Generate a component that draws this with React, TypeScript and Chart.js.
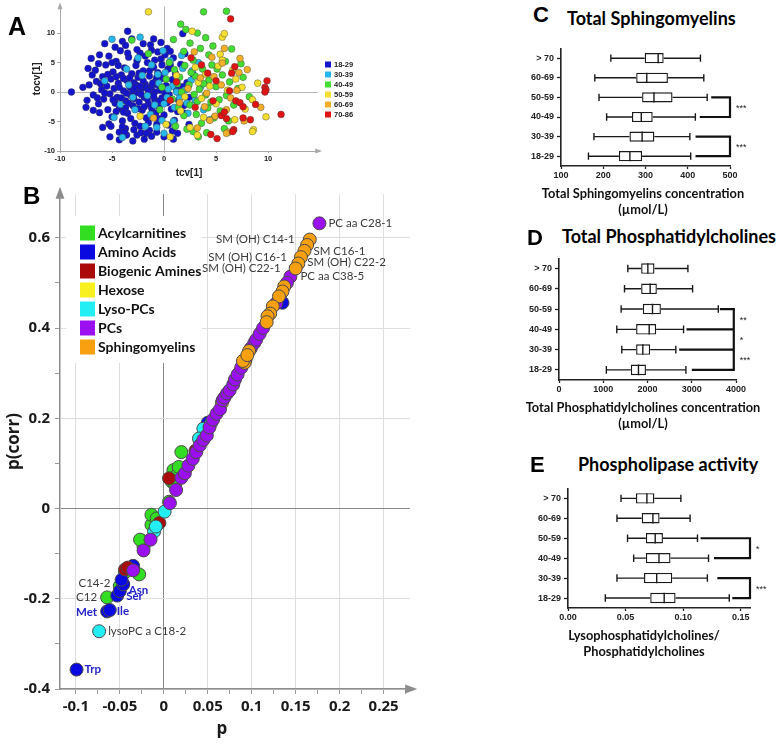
import React, { useEffect, useRef } from 'react';
import { Chart, registerables } from 'chart.js';
Chart.register(...registerables);

// ---------------- Panel A : OPLS score plot ----------------
const A_GROUPS = ['18-29', '30-39', '40-49', '50-59', '60-69', '70-86'];
const A_COLORS = ['#1414cc', '#26b8ec', '#44dd33', '#f4de2e', '#f2b02a', '#e01414'];
const A_X_TICKS = [-10, -5, 0, 5, 10];
const A_Y_TICKS = [-10, -5, 0, 5, 10];

const A_18_29 = [
  [-8.9, 0], [-7.4, -1.4], [-7.0, 5.7], [-6.6, 3.7], [-5.7, 8.2], [-3.5, 10.3], [-4.0, 8.6], [-3.7, 7.9], [-1.3, 8.0], [-0.6, 6.8],
  [0.1, 6.3], [-6.2, -3.5], [-5.9, -6.0], [-5.3, -5.4], [-4.3, -6.8], [-3.7, -6.2], [-1.4, -6.5], [-5.2, -7.6], [-3.6, -7.3], [-2.6, -7.3],
  [-2.2, -6.9], [-1.7, -7.0], [-1.2, -7.5], [-0.7, -6.8], [0.9, -8.0], [0.0, -7.6], [-7.2, 1.2], [-6.8, -0.5], [-6.5, 1.8], [-6.3, -2.0],
  [-6.0, 0.4], [-5.9, 2.6], [-5.8, -1.2], [-5.6, 4.6], [-5.5, 1.0], [-5.4, -3.0], [-5.3, 6.1], [-5.2, -0.3], [-5.1, 2.2], [-5.0, -4.2],
  [-4.9, 3.4], [-4.8, 0.6], [-4.7, -1.9], [-4.6, 5.2], [-4.5, -0.9], [-4.4, 1.5], [-4.3, -2.8], [-4.2, 7.0], [-4.1, 2.9], [-4.0, -4.9],
  [-3.9, 0.2], [-3.8, 4.1], [-3.7, -1.5], [-3.6, 2.0], [-3.5, -3.6], [-3.4, 5.9], [-3.3, 0.9], [-3.2, -0.6], [-3.1, 3.1], [-3.0, -2.3],
  [-2.9, 1.6], [-2.8, -5.3], [-2.7, 4.5], [-2.6, -0.1], [-2.5, 2.5], [-2.4, -1.7], [-2.3, 6.6], [-2.2, 0.5], [-2.1, -3.1], [-2.0, 3.6],
  [-1.9, -0.9], [-1.8, 1.3], [-1.7, -4.4], [-1.6, 5.0], [-1.5, -2.0], [-1.4, 2.7], [-1.3, -0.4], [-1.2, 0.9], [-1.1, -3.4], [-1.0, 4.2],
  [-0.9, -1.3], [-0.8, 1.9], [-0.7, -5.5], [-0.6, 3.3], [-0.5, -2.6], [-0.4, 0.3], [-0.3, 5.6], [-0.2, -1.0], [-0.1, 2.3], [0.0, -3.9],
  [0.2, 1.1], [0.3, -1.8], [0.4, 3.9], [0.5, -0.5], [0.7, -2.9], [0.8, 2.1], [1.0, -4.8], [1.2, 0.4], [1.4, -1.4], [1.6, 4.7],
  [1.9, -2.3], [2.2, 1.6], [-3.6, -0.2], [-3.3, 2.4], [-3.0, 0.3], [-2.9, -1.1], [-2.7, 1.2], [-2.5, -2.8], [-2.4, 3.2], [-2.2, -0.4],
  [-2.0, 1.9], [-1.9, -2.5], [-1.7, 0.7], [-1.6, -1.2], [-1.4, 3.6], [-1.2, -2.7], [-1.1, 1.5], [-0.9, 0.0], [-0.8, -3.6], [-0.6, 1.2],
  [-0.4, -1.5], [-0.3, 2.8], [-4.3, 0.8], [-4.1, -1.0], [-3.9, 2.3], [-3.7, -2.7], [-4.6, -3.3], [-4.9, -1.3], [-5.4, 3.0], [-5.7, -0.2],
  [-6.1, 1.4], [-6.4, -1.0], [-4.4, 4.5], [-3.5, 6.6], [-2.6, 7.2], [-1.8, 6.1], [-0.9, 5.4], [-1.2, 7.1], [-2.0, 8.2], [-3.1, 9.0],
  [-4.7, 7.6], [-6.2, 6.3], [-5.1, -5.8], [-4.0, -5.9], [-3.2, -4.5], [-2.3, -5.8], [-1.5, -5.2], [-0.5, -4.5], [0.4, -5.6], [0.8, -6.6],
  [-3.8, -6.8], [-2.9, -6.4], [-6.8, -3.1], [-7.5, -2.6], [-7.8, 0.8], [-6.9, 2.9], [-6.3, 4.8], [-7.3, 4.0], [0.6, 4.6], [1.1, 3.1],
  [1.5, -0.2], [1.8, 0.9], [2.4, -0.9], [2.0, -3.6], [1.3, -3.3], [0.9, 5.8], [0.3, 7.4], [-0.2, 4.6], [-5.0, 5.0], [-3.0, -8.3],
  [-1.9, -8.0], [-4.3, -8.1], [1.8, 9.9], [-1.0, 9.0], [-0.3, 8.4], [0.6, 6.9], [1.3, -7.0], [2.4, -5.5], [2.8, 3.0], [2.0, 6.5],
  [-3.4, -1.9], [-2.8, 0.7], [-1.5, 0.2], [-1.0, -0.7], [-2.3, 1.0], [-3.9, -3.4], [-4.6, 2.6], [-2.6, 5.3], [-0.7, 2.5], [0.1, -0.2],
];
const A_30_39 = [
  [-5.0, 8.95], [-2.3, 9.3], [-4.0, -7.7], [0.0, -7.0], [-4.2, -2.1], [-3.4, 1.2], [-2.8, -3.0], [-2.1, 2.8], [-1.6, -0.6], [-1.2, 4.6],
  [-0.9, -2.2], [-0.5, 1.5], [-0.2, -4.8], [0.1, 3.3], [0.3, -0.9], [0.6, 5.3], [0.8, 1.0], [1.0, -2.6], [1.3, 2.4], [1.5, -1.0],
  [1.8, 4.0], [2.0, 0.3], [2.3, -3.6], [2.6, 2.0], [3.0, -1.4], [3.3, 5.0], [3.8, -3.0], [4.4, -4.7], [-1.8, -5.8], [-0.7, -6.0],
  [0.9, -5.0], [1.7, 6.2], [-0.1, 7.0], [-3.6, 3.9], [-4.8, -4.3], [-5.7, 1.9], [0.4, 0.5], [-0.6, 3.0], [1.2, 0.0], [2.2, -1.9],
  [0.0, -2.0], [-1.3, -3.8], [2.7, 3.6], [3.5, 0.8], [-2.5, 5.8], [-3.0, -0.9],
];
const A_40_49 = [
  [3.8, 13.6], [6.0, 13.7], [1.6, 11.5], [2.1, 10.6], [3.2, 10.0], [3.5, 7.4], [4.7, 7.8], [6.5, 7.3], [1.9, 6.9], [4.3, 6.3],
  [-3.1, 8.8], [-1.5, 6.5], [3.3, -7.6], [2.8, -6.7], [0.5, 5.0], [1.0, 3.8], [1.5, 2.5], [2.0, 4.5], [2.4, 1.2], [2.8, 5.4],
  [3.0, 2.7], [3.4, 0.5], [3.7, 3.9], [4.0, -0.5], [4.3, 2.0], [4.6, 4.6], [5.0, 0.9], [5.3, -1.3], [5.6, 2.9], [6.0, -0.6],
  [6.3, 1.7], [6.7, -2.2], [7.1, 0.6], [7.6, 2.5], [8.2, -0.8], [0.8, -1.2], [1.4, -2.6], [1.9, -4.0], [2.5, -2.2], [3.1, -3.8],
  [3.6, -5.3], [4.2, -2.7], [4.8, -4.4], [5.4, -3.2], [6.2, -4.9], [0.2, 2.2], [-0.4, -3.0], [1.1, -5.8], [2.2, -6.3], [1.7, 0.0],
  [2.9, -0.4], [3.8, 1.4], [4.5, -1.7], [5.1, 3.9], [5.9, 5.2], [2.5, 8.3], [4.0, 9.2], [0.9, 8.9], [7.4, 4.8], [5.8, -6.2],
  [4.1, -6.9], [-0.2, 0.8], [1.3, 1.4], [3.2, -1.6], [2.6, 3.3],
];
const A_50_59 = [
  [-1.5, 13.6], [2.7, 10.3], [5.6, 9.3], [5.8, 9.9], [5.4, 6.4], [5.6, 5.4], [6.6, 3.7], [7.5, 0.8], [8.5, -1.3], [9.8, -4.2],
  [8.6, -6.4], [6.8, -4.7], [3.8, -4.3], [2.5, -6.0], [-2.3, -4.1], [0.6, -7.6], [3.2, -7.3], [8.5, -6.7], [1.2, 2.8], [2.0, -0.8],
  [3.0, 4.2], [3.6, -1.1], [4.4, 1.0], [5.0, -2.0], [5.2, 4.4], [6.1, 0.3], [6.9, 2.2], [4.0, 3.0], [1.6, -3.2], [3.3, 1.6],
  [7.8, -2.9], [9.0, 1.5], [0.2, -5.5],
];
const A_60_69 = [
  [5.6, 4.9], [7.2, 3.3], [7.0, 0.3], [4.9, -4.1], [4.4, -4.8], [3.2, -6.1], [6.2, -6.8], [6.0, -7.0], [-1.0, -4.4], [2.3, 0.6],
  [3.5, 2.4], [4.1, -0.2], [4.8, 2.6], [5.5, 1.2], [6.4, -1.0], [7.3, 5.7], [2.9, 6.8], [6.0, -3.0], [8.0, 3.8], [3.9, -2.5],
  [5.8, 7.4], [1.5, -1.8], [7.7, -4.9], [9.3, -2.6], [4.6, 5.9],
];
const A_70_86 = [
  [6.4, 12.4], [2.6, 5.8], [6.8, 4.3], [6.5, 3.2], [9.9, 1.9], [9.7, 0.8], [9.8, 0.4], [9.7, 0.0], [6.3, 0.2], [6.9, -1.5],
  [7.3, -1.8], [7.6, -2.5], [11.25, -3.8], [7.6, -4.4], [6.7, -6.4], [6.0, -4.5], [5.5, -4.0], [5.8, -3.4], [3.0, -2.6], [4.7, -1.5],
  [4.2, 3.2], [1.2, 1.7], [0.6, -1.4], [4.5, -7.2], [5.1, -7.9], [6.6, -6.7], [8.3, -4.7], [3.6, 4.6], [5.0, 1.9], [8.8, -2.1],
];

// ---------------- Panel B : S-plot ----------------
const B_CATEGORIES = ['Acylcarnitines', 'Amino Acids', 'Biogenic Amines', 'Hexose', 'Lyso-PCs', 'PCs', 'Sphingomyelins'];
const B_COLORS = ['#33dd22', '#0a0ae0', '#aa0a0a', '#f8f020', '#22eef4', '#9a10f0', '#f8a010'];
const B_X_TICKS = [-0.1, -0.075, -0.05, -0.025, 0, 0.025, 0.05, 0.075, 0.1, 0.125, 0.15, 0.175, 0.2, 0.225, 0.25, 0.275];
const B_Y_TICKS = [-0.4, -0.3, -0.2, -0.1, 0, 0.1, 0.2, 0.3, 0.4, 0.5, 0.6];

const B_ACYL = [
  [-0.0644, -0.197], [-0.047, -0.166], [-0.044, -0.141], [-0.028, -0.146], [-0.025, -0.071], [-0.023, -0.084], [-0.027, -0.069],
  [-0.014, -0.036], [-0.014, -0.014], [-0.008, -0.022], [0.006, 0.015], [0.011, 0.085], [0.015, 0.074], [0.009, 0.060],
  [0.020, 0.125], [-0.050, -0.172], [0.013, 0.052], [0.017, 0.092],
];
const B_AMINO = [
  [-0.0992, -0.357], [-0.0644, -0.228], [-0.0614, -0.225], [-0.053, -0.193], [-0.050, -0.183], [-0.046, -0.168], [-0.048, -0.158],
  [-0.0348, -0.127], [0.050, 0.190], [0.135, 0.456],
];
const B_BIOGENIC = [[-0.044, -0.135], [-0.041, -0.131], [-0.005, -0.032], [0.006, 0.067], [0.036, 0.128]];
const B_HEXOSE = [[0.066, 0.234]];
const B_LYSO = [[-0.0735, -0.272], [-0.011, -0.051], [0.001, -0.007], [0.045, 0.177], [0.054, 0.190], [-0.009, -0.040], [0.040, 0.155]];
const B_PC = [
  [0.177, 0.632], [0.144, 0.514], [-0.0348, -0.137], [-0.023, -0.093], [-0.015, -0.069], [0.007, 0.012], [0.014, 0.041],
  [0.020, 0.068], [0.024, 0.078], [0.028, 0.095], [0.033, 0.110], [0.037, 0.125], [0.041, 0.140], [0.045, 0.152], [0.049, 0.162],
  [0.052, 0.180], [0.056, 0.197], [0.060, 0.210], [0.064, 0.220], [0.067, 0.240], [0.069, 0.246], [0.072, 0.255], [0.075, 0.262],
  [0.079, 0.275], [0.081, 0.286], [0.084, 0.297], [0.088, 0.312], [0.093, 0.330], [0.099, 0.355], [0.103, 0.367], [0.105, 0.374],
  [0.109, 0.387], [0.113, 0.400], [0.128, 0.455], [0.140, 0.500],
];
const B_SM = [
  [0.166, 0.596], [0.163, 0.584], [0.160, 0.571], [0.156, 0.557], [0.153, 0.543], [0.150, 0.532], [0.137, 0.492], [0.135, 0.481],
  [0.131, 0.470], [0.124, 0.448], [0.121, 0.432], [0.118, 0.426], [0.117, 0.413], [0.097, 0.349], [0.092, 0.323], [0.090, 0.327],
  [0.095, 0.340],
];
const B_SERIES = [B_ACYL, B_AMINO, B_BIOGENIC, B_HEXOSE, B_LYSO, B_PC, B_SM];

const B_LABEL_TEXT = ['PC aa C28-1', 'SM (OH) C14-1', 'SM C16-1', 'SM (OH) C16-1', 'SM (OH) C22-2', 'SM (OH) C22-1', 'PC aa C38-5',
  'C14-2', 'C12', 'Asn', 'Ser', 'Met', 'Ile', 'lysoPC a C18-2', 'Trp'];
const B_LABEL_AT = [[0.177, 0.632], [0.166, 0.596], [0.160, 0.571], [0.156, 0.557], [0.153, 0.543], [0.150, 0.532], [0.144, 0.514],
  [-0.047, -0.166], [-0.0644, -0.197], [-0.050, -0.183], [-0.053, -0.193], [-0.0644, -0.228], [-0.0614, -0.225], [-0.0735, -0.272], [-0.0992, -0.357]];
const B_LABEL_AMINO = [false, false, false, false, false, false, false, false, false, true, true, true, true, false, true];
// label placement (pixel offsets from the anchor point)
const B_LABEL_DX = [9, -15, 9, -14, 9, -15, 10, -12, -10, 9, 9, -10, 7, 9, 8];
const B_LABEL_DY = [0, 0, 0, 0, -1, 0, 0, 0, 0, -1, 1, 1, 1.5, 0, 0];

// ---------------- Panels C, D, E : box plots ----------------
const AGE_LABELS = ['> 70', '60-69', '50-59', '40-49', '30-39', '18-29'];

const C_LO = [218, 180, 190, 208, 178, 165];
const C_Q1 = [298, 278, 292, 268, 262, 237];
const C_MED = [330, 303, 320, 290, 292, 263];
const C_Q3 = [343, 353, 364, 317, 321, 292];
const C_HI = [430, 438, 446, 418, 405, 407];
const C_TICKS = [100, 200, 300, 400, 500];

const D_LO = [1555, 1480, 1404, 1306, 1419, 1070];
const D_Q1 = [1857, 1857, 1894, 1743, 1743, 1623];
const D_MED = [2008, 2060, 2113, 2038, 1894, 1796];
const D_Q3 = [2158, 2211, 2302, 2196, 2060, 1965];
const D_HI = [2913, 3019, 3600, 2815, 2640, 2868];
const D_TICKS = [0, 1000, 2000, 3000, 4000];

const E_LO = [0.046, 0.0425, 0.0517, 0.057, 0.0425, 0.0324];
const E_Q1 = [0.059, 0.064, 0.0676, 0.0676, 0.066, 0.0714];
const E_MED = [0.0685, 0.0737, 0.0757, 0.079, 0.077, 0.0835];
const E_Q3 = [0.075, 0.0795, 0.0824, 0.089, 0.0905, 0.0934];
const E_HI = [0.098, 0.106, 0.1124, 0.122, 0.121, 0.140];
const E_TICKS = [0, 0.05, 0.1, 0.15];

const C_BRACKETS = [
  { rows: ['50-59', '40-49'], starts: [458, 431], end: 500, labels: ['***'] },
  { rows: ['30-39', '18-29'], starts: [421, 421], end: 500, labels: ['***'] },
];
const D_BRACKETS = [
  { rows: ['50-59', '40-49', '30-39', '18-29'], starts: [3660, 2905, 2740, 3026], end: 3950, labels: ['**', '*', '***'] },
];
const E_BRACKETS = [
  { rows: ['50-59', '40-49'], starts: [0.116, 0.1277], end: 0.158, labels: ['*'] },
  { rows: ['30-39', '18-29'], starts: [0.1306, 0.1436], end: 0.158, labels: ['***'] },
];

// ---------------- helpers ----------------
const ARIAL = "'Liberation Sans', Arial, sans-serif";
const NARROW = "'Liberation Sans Narrow', 'Liberation Sans', Arial, sans-serif";

function arrowPlugin(color: string, len: number, half: number) {
  return {
    id: 'axisArrows',
    afterDraw(chart: any) {
      const { ctx, chartArea: a } = chart;
      ctx.save();
      ctx.fillStyle = color;
      ctx.beginPath();
      ctx.moveTo(a.left, a.top - len * 0.6);
      ctx.lineTo(a.left - half, a.top + len * 0.4);
      ctx.lineTo(a.left + half, a.top + len * 0.4);
      ctx.closePath();
      ctx.fill();
      ctx.beginPath();
      ctx.moveTo(a.right + len * 0.6, a.bottom);
      ctx.lineTo(a.right - len * 0.4, a.bottom - half);
      ctx.lineTo(a.right - len * 0.4, a.bottom + half);
      ctx.closePath();
      ctx.fill();
      ctx.restore();
    },
  };
}

function pts(arr: number[][]) {
  return arr.map(([x, y]) => ({ x, y }));
}

function makeA(canvas: HTMLCanvasElement) {
  const series = [A_70_86, A_60_69, A_50_59, A_40_49, A_30_39, A_18_29];
  const cols = [A_COLORS[5], A_COLORS[4], A_COLORS[3], A_COLORS[2], A_COLORS[1], A_COLORS[0]];
  const legendPlugin = {
    id: 'aLegend',
    afterDraw(chart: any) {
      const { ctx, chartArea: a } = chart;
      ctx.save();
      ctx.font = `bold 7.5px ${ARIAL}`;
      ctx.textBaseline = 'middle';
      A_GROUPS.forEach((g, i) => {
        const y = a.top + 58 + i * 10;
        ctx.fillStyle = A_COLORS[i];
        ctx.fillRect(a.right + 7, y - 3, 6, 6);
        ctx.fillStyle = '#222';
        ctx.fillText(g, a.right + 16, y);
      });
      ctx.restore();
    },
  };
  return new Chart(canvas, {
    type: 'scatter',
    data: {
      datasets: series.map((s, i) => ({
        data: pts(s),
        backgroundColor: cols[i],
        borderColor: 'rgba(60,60,60,0.65)',
        borderWidth: 0.6,
        pointRadius: 3.4,
      })),
    },
    options: {
      animation: false,
      responsive: false,
      events: [],
      layout: { padding: { left: 27, top: 4, right: 42, bottom: 0 } },
      plugins: { legend: { display: false }, tooltip: { enabled: false } },
      scales: {
        x: {
          type: 'linear', min: -10, max: 14.8,
          afterBuildTicks: (s: any) => { s.ticks = A_X_TICKS.map((v) => ({ value: v })); },
          afterFit: (s: any) => { s.height = 34; },
          ticks: { font: { family: ARIAL, size: 7.5, weight: 'bold' }, color: '#222', padding: 1, maxRotation: 0 },
          grid: { color: (c: any) => (c.tick && c.tick.value === 0 ? '#b8b8b8' : 'rgba(0,0,0,0)'), tickColor: '#aaa', tickLength: 2 },
          border: { color: '#a8a8a8', width: 1 },
          title: { display: true, text: 'tcv[1]', font: { family: ARIAL, size: 10, weight: 'bold' }, color: '#222', padding: { top: 0, bottom: 6 } },
        },
        y: {
          type: 'linear', min: -10, max: 14.5,
          afterBuildTicks: (s: any) => { s.ticks = A_Y_TICKS.map((v) => ({ value: v })); },
          afterFit: (s: any) => { s.width = 33; },
          ticks: { font: { family: ARIAL, size: 7.5, weight: 'bold' }, color: '#222', padding: 2 },
          grid: { color: (c: any) => (c.tick && c.tick.value === 0 ? '#b8b8b8' : 'rgba(0,0,0,0)'), tickColor: '#aaa', tickLength: 3 },
          border: { color: '#a8a8a8', width: 1 },
          title: { display: true, text: 'tocv[1]', font: { family: ARIAL, size: 10, weight: 'bold' }, color: '#222', padding: { top: 4, bottom: 0 } },
        },
      },
    } as any,
    plugins: [arrowPlugin('#a8a8a8', 7, 2.5), legendPlugin],
  });
}

function isMult(v: number, step: number) {
  const r = v / step;
  return Math.abs(r - Math.round(r)) < 1e-6;
}

function makeB(canvas: HTMLCanvasElement) {
  const drawOrder = [6, 5, 3, 4, 2, 1, 0];
  const legendPlugin = {
    id: 'bLegend',
    afterDraw(chart: any) {
      const { ctx, chartArea: a } = chart;
      ctx.save();
      ctx.fillStyle = '#fff';
      ctx.fillRect(a.left + 6, a.top + 22, 136, 147);
      ctx.font = `bold 14px Lato, ${ARIAL}`;
      ctx.textBaseline = 'middle';
      B_CATEGORIES.forEach((c, i) => {
        const y = a.top + 39 + i * 19;
        ctx.fillStyle = B_COLORS[i];
        ctx.fillRect(a.left + 20, y - 7.5, 15, 15);
        ctx.fillStyle = '#111';
        ctx.fillText(c, a.left + 38, y + 0.5);
      });
      // x-axis title
      ctx.font = "bold 17px 'Open Sans', sans-serif";
      ctx.fillStyle = '#1a1a1a';
      ctx.textAlign = 'center';
      ctx.fillText('p', (a.left + a.right) / 2 - 13, a.bottom + 40);
      ctx.restore();
    },
  };
  const labelPlugin = {
    id: 'bLabels',
    afterDatasetsDraw(chart: any) {
      const { ctx, scales } = chart;
      ctx.save();
      ctx.textBaseline = 'middle';
      B_LABEL_TEXT.forEach((t, i) => {
        const x = scales.x.getPixelForValue(B_LABEL_AT[i][0]) + B_LABEL_DX[i];
        const y = scales.y.getPixelForValue(B_LABEL_AT[i][1]) + B_LABEL_DY[i];
        ctx.textAlign = B_LABEL_DX[i] < 0 ? 'right' : 'left';
        ctx.font = B_LABEL_AMINO[i] ? `bold 11.5px Lato, ${ARIAL}` : `11.5px Lato, ${ARIAL}`;
        ctx.fillStyle = B_LABEL_AMINO[i] ? '#2424c8' : '#3a3a3a';
        ctx.fillText(t, x, y);
      });
      ctx.restore();
    },
  };
  return new Chart(canvas, {
    type: 'scatter',
    data: {
      datasets: drawOrder.map((k) => ({
        data: pts(B_SERIES[k]),
        backgroundColor: B_COLORS[k],
        borderColor: '#4a4a4a',
        borderWidth: 1,
        pointRadius: 6.5,
      })),
    },
    options: {
      animation: false,
      responsive: false,
      events: [],
      layout: { padding: { left: 0, top: 10, right: 60, bottom: 0 } },
      plugins: { legend: { display: false }, tooltip: { enabled: false } },
      scales: {
        x: {
          type: 'linear', min: -0.118, max: 0.28,
          afterBuildTicks: (s: any) => { s.ticks = B_X_TICKS.map((v) => ({ value: v })); },
          afterFit: (s: any) => { s.height = 55; },
          ticks: {
            font: { family: "'Open Sans', sans-serif", size: 15, weight: 'bold' }, color: '#1a1a1a', padding: 4, maxRotation: 0, autoSkip: false,
            callback: (v: any) => (isMult(v, 0.05) ? String(v) : ''),
          },
          grid: {
            color: (c: any) => (!c.tick ? 'rgba(0,0,0,0)' : c.tick.value === 0 ? '#8a8a8a' : isMult(c.tick.value, 0.05) ? '#dedede' : 'rgba(0,0,0,0)'),
            tickColor: '#9a9a9a', tickLength: 5,
          },
          border: { color: '#8c8c8c', width: 1.5 },
        },
        y: {
          type: 'linear', min: -0.4, max: 0.697,
          afterBuildTicks: (s: any) => { s.ticks = B_Y_TICKS.map((v) => ({ value: v })); },
          afterFit: (s: any) => { s.width = 60; },
          ticks: {
            font: { family: "'Open Sans', sans-serif", size: 15, weight: 'bold' }, color: '#1a1a1a', padding: 5, autoSkip: false,
            callback: (v: any) => (isMult(v, 0.2) ? String(v) : ''),
          },
          grid: {
            color: (c: any) => (!c.tick ? 'rgba(0,0,0,0)' : c.tick.value === 0 ? '#8a8a8a' : isMult(c.tick.value, 0.2) ? '#dedede' : 'rgba(0,0,0,0)'),
            tickColor: '#9a9a9a', tickLength: 5,
          },
          border: { color: '#8c8c8c', width: 1.5 },
          title: { display: true, text: 'p(corr)', font: { family: "'Open Sans', sans-serif", size: 17, weight: 'bold' }, color: '#1a1a1a', padding: { top: 4, bottom: 0 } },
        },
      },
    } as any,
    plugins: [arrowPlugin('#8c8c8c', 12, 4.5), labelPlugin, legendPlugin],
  });
}

type BoxOpts = {
  lo: number[]; q1: number[]; med: number[]; q3: number[]; hi: number[];
  min: number; max: number; ticks: number[]; fmt: (v: number) => string;
  brackets: { rows: string[]; starts: number[]; end: number; labels: string[] }[];
  title: string[]; titleX: number; top: number; right: number; yw: number; xh: number;
};

function makeBox(canvas: HTMLCanvasElement, o: BoxOpts) {
  const whisk = {
    id: 'whiskers',
    afterDatasetsDraw(chart: any) {
      const { ctx } = chart;
      const xs = chart.scales.x;
      const ys = chart.scales.y;
      const meta = chart.getDatasetMeta(0);
      ctx.save();
      ctx.strokeStyle = '#1a1a1a';
      ctx.lineWidth = 1.4;
      meta.data.forEach((el: any, i: number) => {
        const y = el.y;
        const h2 = el.height / 2;
        const cap = el.height * 0.36;
        const xl = xs.getPixelForValue(o.lo[i]);
        const x1 = xs.getPixelForValue(o.q1[i]);
        const xm = xs.getPixelForValue(o.med[i]);
        const x3 = xs.getPixelForValue(o.q3[i]);
        const xh = xs.getPixelForValue(o.hi[i]);
        ctx.beginPath();
        ctx.moveTo(xl, y); ctx.lineTo(x1, y);
        ctx.moveTo(x3, y); ctx.lineTo(xh, y);
        ctx.moveTo(xl, y - cap); ctx.lineTo(xl, y + cap);
        ctx.moveTo(xh, y - cap); ctx.lineTo(xh, y + cap);
        ctx.moveTo(xm, y - h2); ctx.lineTo(xm, y + h2);
        ctx.stroke();
      });
      ctx.lineWidth = 2.2;
      ctx.strokeStyle = '#111';
      ctx.lineCap = 'square';
      o.brackets.forEach((b) => {
        const xe = xs.getPixelForValue(b.end);
        const yy = b.rows.map((r) => ys.getPixelForValue(AGE_LABELS.indexOf(r)));
        ctx.beginPath();
        b.rows.forEach((r, k) => {
          ctx.moveTo(xs.getPixelForValue(b.starts[k]), yy[k]);
          ctx.lineTo(xe, yy[k]);
        });
        ctx.moveTo(xe, yy[0]);
        ctx.lineTo(xe, yy[yy.length - 1]);
        ctx.stroke();
        ctx.fillStyle = '#222';
        ctx.font = `9px ${ARIAL}`;
        ctx.textBaseline = 'middle';
        ctx.textAlign = 'left';
        b.labels.forEach((t, k) => ctx.fillText(t, xe + 6, (yy[k] + yy[k + 1]) / 2 + 1));
      });
      // axis title (two lines, not squeezed to the axis width)
      const a = chart.chartArea;
      ctx.fillStyle = '#111';
      ctx.font = `bold 12.8px Lato, ${ARIAL}`;
      ctx.textAlign = 'center';
      ctx.textBaseline = 'middle';
      o.title.forEach((t, k) => ctx.fillText(t, o.titleX, a.bottom + 27.5 + k * 16));
      ctx.restore();
    },
  };
  const tickFont = { family: NARROW, size: 9, weight: 'bold' };
  return new Chart(canvas, {
    type: 'bar',
    data: {
      labels: AGE_LABELS,
      datasets: [{
        data: o.q1.map((q, i) => [q, o.q3[i]]),
        backgroundColor: '#ffffff',
        borderColor: '#1a1a1a',
        borderWidth: 1.4,
        borderSkipped: false,
        barPercentage: 0.52,
        categoryPercentage: 1,
      }],
    },
    options: {
      animation: false,
      responsive: false,
      events: [],
      indexAxis: 'y',
      layout: { padding: { left: 0, top: o.top, right: o.right, bottom: 0 } },
      plugins: { legend: { display: false }, tooltip: { enabled: false } },
      scales: {
        x: {
          type: 'linear', min: o.min, max: o.max,
          afterBuildTicks: (s: any) => { s.ticks = o.ticks.map((v) => ({ value: v })); },
          afterFit: (s: any) => { s.height = o.xh; },
          ticks: { font: tickFont, color: '#222', padding: 1, maxRotation: 0, autoSkip: false, callback: (v: any) => o.fmt(v) },
          grid: { drawOnChartArea: false, tickLength: 3, tickColor: '#222', tickWidth: 1.3 },
          border: { color: '#222', width: 1.6 },
        },
        y: {
          type: 'category',
          afterFit: (s: any) => { s.width = o.yw; },
          ticks: { font: tickFont, color: '#222', padding: 3, autoSkip: false },
          grid: { drawOnChartArea: false, offset: false, tickLength: 4, tickColor: '#222', tickWidth: 1.3 },
          border: { color: '#222', width: 1.6 },
        },
      },
    } as any,
    plugins: [whisk],
  });
}

const letter = (t: string, left: number, top: number, size: number) => (
  <div style={{ position: 'absolute', left, top, fontFamily: ARIAL, fontWeight: 'bold', fontSize: size, lineHeight: 1, color: '#000' }}>{t}</div>
);
const title = (t: string, left: number, top: number) => (
  <div style={{ position: 'absolute', left, top, fontFamily: `Lato, ${ARIAL}`, fontWeight: 'bold', fontSize: 18, lineHeight: 1, color: '#000', whiteSpace: 'nowrap' }}>{t}</div>
);

export default function App() {
  const ra = useRef<HTMLCanvasElement>(null);
  const rb = useRef<HTMLCanvasElement>(null);
  const rc = useRef<HTMLCanvasElement>(null);
  const rd = useRef<HTMLCanvasElement>(null);
  const re = useRef<HTMLCanvasElement>(null);

  useEffect(() => {
    const charts = [
      makeA(ra.current!),
      makeB(rb.current!),
      makeBox(rc.current!, {
        lo: C_LO, q1: C_Q1, med: C_MED, q3: C_Q3, hi: C_HI, min: 100, max: 500, ticks: C_TICKS,
        fmt: (v) => String(v), brackets: C_BRACKETS, title: ['Total Sphingomyelins concentration', '(µmol/L)'], titleX: 173,
        top: 8, right: 54, yw: 91, xh: 54,
      }),
      makeBox(rd.current!, {
        lo: D_LO, q1: D_Q1, med: D_MED, q3: D_Q3, hi: D_HI, min: 0, max: 4000, ticks: D_TICKS,
        fmt: (v) => String(v), brackets: D_BRACKETS, title: ['Total Phosphatidylcholines concentration', '(µmol/L)'], titleX: 173,
        top: 7, right: 48, yw: 89, xh: 55,
      }),
      makeBox(re.current!, {
        lo: E_LO, q1: E_Q1, med: E_MED, q3: E_Q3, hi: E_HI, min: 0, max: 0.158, ticks: E_TICKS,
        fmt: (v) => v.toFixed(2), brackets: E_BRACKETS, title: ['Lysophosphatidylcholines/', 'Phosphatidylcholines'], titleX: 174,
        top: 7, right: 34, yw: 98, xh: 54,
      }),
    ];
    return () => charts.forEach((c) => c.destroy());
  }, []);

  const cv = (ref: any, left: number, top: number, w: number, h: number) => (
    <canvas ref={ref} width={w} height={h} style={{ position: 'absolute', left, top, width: w, height: h }} />
  );

  return (
    <div style={{ position: 'absolute', left: 0, top: 0, width: 784, height: 744, background: '#fff', overflow: 'hidden' }}>
      {cv(ra, 0, 0, 360, 185)}
      {cv(rb, 0, 180, 470, 564)}
      {cv(rc, 470, 40, 314, 180)}
      {cv(rd, 470, 250, 314, 185)}
      {cv(re, 470, 480, 314, 182)}
      {letter('A', 8, 14, 25)}
      {letter('B', 23, 184, 24)}
      {letter('C', 533, 4, 22)}
      {letter('D', 527, 227, 22)}
      {letter('E', 530, 454, 22)}
      {title('Total Sphingomyelins', 567, 9)}
      {title('Total Phosphatidylcholines', 562, 227)}
      {title('Phospholipase activity', 578, 455)}
    </div>
  );
}
